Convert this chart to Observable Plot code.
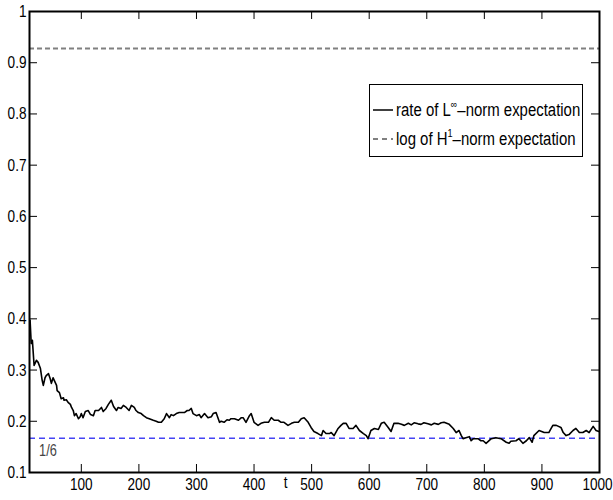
<!DOCTYPE html>
<html>
<head>
<meta charset="utf-8">
<script src="https://cdn.jsdelivr.net/npm/d3@7"></script>
<script src="https://cdn.jsdelivr.net/npm/@observablehq/plot@0.6"></script>
<style>
  html, body { margin: 0; padding: 0; background: #fff; }
  #wrap { position: relative; width: 613px; height: 500px; }
  #legend {
    position: absolute; left: 369px; top: 84px; width: 214px; height: 73px;
    border: 1px solid #000; background: #fff; box-sizing: border-box;
    font-family: "Liberation Sans", Arial, sans-serif;
    font-size: 18px; color: #000;
  }
  .row { position: absolute; left: 3px; height: 20px; display: flex; align-items: center; white-space: nowrap; }
  .row svg { margin-right: 3px; flex: none; }
  .row span { display: inline-block; transform: scaleX(0.83); transform-origin: 0 50%; }
  sup { font-size: 11px; vertical-align: 8px; line-height: 0; }
</style>
</head>
<body>
<div id="wrap"></div>
<script>
// Series: rate of L∞-norm expectation (t, value)
const tVals = [11,13,15,18,22,25,29,32,34,37,39,43,46,48,51,53,57,58,62,65,69,70,74,77,81,83,86,88,91,95,98,100,103,107,112,116,121,124,130,135,138,143,147,152,156,161,164,169,173,178,183,187,192,195,199,204,208,213,218,225,230,234,239,244,248,253,256,260,265,270,274,279,284,287,291,294,300,305,308,314,320,326,329,334,340,343,348,353,357,360,366,373,378,381,386,392,395,400,407,412,418,425,430,435,442,447,452,459,465,470,477,482,487,494,499,504,511,517,520,525,531,534,539,546,551,555,560,565,572,577,583,590,595,598,603,609,616,621,626,633,638,643,650,656,661,668,673,678,685,690,695,702,708,713,720,725,730,739,746,751,756,760,763,768,774,777,781,786,789,794,798,803,812,820,829,838,843,846,855,860,867,873,878,883,886,895,904,912,916,919,925,933,937,942,947,954,959,965,971,977,982,989,994,999];
const rateVals = [0.397,0.352,0.358,0.309,0.319,0.315,0.303,0.280,0.270,0.285,0.289,0.293,0.283,0.274,0.285,0.280,0.270,0.260,0.256,0.244,0.246,0.241,0.242,0.237,0.233,0.227,0.221,0.211,0.215,0.205,0.209,0.215,0.207,0.219,0.221,0.213,0.211,0.221,0.221,0.227,0.219,0.225,0.233,0.241,0.229,0.221,0.227,0.225,0.231,0.227,0.221,0.231,0.227,0.221,0.217,0.215,0.211,0.207,0.205,0.202,0.200,0.198,0.198,0.205,0.215,0.207,0.213,0.211,0.215,0.217,0.217,0.217,0.221,0.221,0.225,0.215,0.211,0.213,0.207,0.215,0.207,0.209,0.215,0.217,0.198,0.200,0.198,0.203,0.202,0.205,0.205,0.202,0.207,0.207,0.198,0.211,0.215,0.198,0.192,0.196,0.198,0.198,0.207,0.202,0.202,0.198,0.198,0.192,0.196,0.198,0.198,0.205,0.207,0.198,0.188,0.180,0.176,0.172,0.182,0.176,0.176,0.178,0.172,0.186,0.192,0.196,0.196,0.186,0.186,0.192,0.182,0.176,0.172,0.166,0.182,0.186,0.184,0.196,0.198,0.188,0.180,0.196,0.196,0.194,0.192,0.196,0.193,0.197,0.195,0.194,0.197,0.195,0.193,0.196,0.194,0.197,0.198,0.194,0.186,0.178,0.182,0.172,0.166,0.168,0.170,0.162,0.166,0.166,0.166,0.162,0.162,0.157,0.166,0.168,0.166,0.159,0.157,0.161,0.162,0.166,0.157,0.162,0.168,0.159,0.172,0.182,0.178,0.178,0.186,0.192,0.192,0.188,0.178,0.172,0.174,0.182,0.186,0.178,0.178,0.182,0.178,0.190,0.182,0.180,0.178];

// Reference levels
const logH1 = 0.928;
const oneSixth = 1 / 6;

// Axes
const xDomain = [10, 1000];
const yDomain = [0.1, 1];
const xTicks = [100, 200, 300, 400, 500, 600, 700, 800, 900, 1000];
const xTickLabels = ["100", "200", "300", "400", "500", "600", "700", "800", "900", "1000"];
const yTicks = [0.1, 0.2, 0.3, 0.4, 0.5, 0.6, 0.7, 0.8, 0.9, 1];
const yTickLabels = ["0.1", "0.2", "0.3", "0.4", "0.5", "0.6", "0.7", "0.8", "0.9", "1"];
const xLabel = "t";
const xLabelAt = 455;
const levelLabel = "1/6";
const levelLabelAt = 42;

const data = tVals.map((t, i) => ({t, v: rateVals[i]}));

const W = 613, H = 500;
const mL = 29, mR = 14, mT = 11, mB = 28;
const plotH = H - mT - mB, plotW = W - mL - mR;
const tk = 8;
const font = '"Liberation Sans", Arial, sans-serif';

const chart = Plot.plot({
  width: W, height: H,
  marginLeft: mL, marginRight: mR, marginTop: mT, marginBottom: mB,
  style: {fontFamily: font, fontSize: "17px", color: "#000", background: "#fff", overflow: "visible"},
  x: {domain: xDomain},
  y: {domain: yDomain},
  marks: [
    Plot.ruleY([logH1], {stroke: "#808080", strokeWidth: 2, strokeDasharray: "5,3"}),
    Plot.ruleY([oneSixth], {stroke: "#4444f4", strokeWidth: 1.5, strokeDasharray: "6,4"}),
    Plot.line(data, {x: "t", y: "v", stroke: "#000", strokeWidth: 1.6}),
    Plot.text([levelLabel], {x: levelLabelAt, y: oneSixth, text: d => d, dy: 13, fill: "#444", fontSize: 16}),
    // inward ticks (bottom, top, left, right)
    Plot.tickX(xTicks, {x: d => d, stroke: "#000", insetTop: plotH - tk}),
    Plot.tickX(xTicks, {x: d => d, stroke: "#000", insetBottom: plotH - tk}),
    Plot.tickY(yTicks, {y: d => d, stroke: "#000", insetRight: plotW - tk}),
    Plot.tickY(yTicks, {y: d => d, stroke: "#000", insetLeft: plotW - tk}),
    Plot.axisX(xTicks, {tickSize: 0, tickPadding: 5, label: null, fontSize: 17, tickFormat: (d, i) => xTickLabels[i]}),
    Plot.axisY(yTicks, {tickSize: 0, tickPadding: 3, label: null, fontSize: 17, tickFormat: (d, i) => yTickLabels[i]}),
    Plot.text([xLabel], {x: xLabelAt, frameAnchor: "bottom", dy: 15, fontSize: 17, fill: "#000", text: d => d}),
    Plot.frame({stroke: "#000", strokeWidth: 2})
  ]
});

// condense the text horizontally to mimic the narrow Helvetica of the original
chart.querySelectorAll("text").forEach(t => {
  const tr = t.getAttribute("transform");
  if (!tr) return;
  // keep the last x tick label inside the picture
  const extra = t.textContent === xTickLabels[xTickLabels.length - 1] ? " translate(-2,0)" : "";
  t.setAttribute("transform", tr + extra + " scale(0.8,1)");
});

const wrap = document.getElementById("wrap");
wrap.appendChild(chart);

const legend = document.createElement("div");
legend.id = "legend";
legend.innerHTML = `
  <div class="row" style="top:15px">
    <svg width="20" height="4"><line x1="0" y1="2" x2="20" y2="2" stroke="#000" stroke-width="1.5"/></svg>
    <span>rate of L<sup>∞</sup>–norm expectation</span>
  </div>
  <div class="row" style="top:44px">
    <svg width="20" height="4"><line x1="0" y1="2" x2="20" y2="2" stroke="#808080" stroke-width="2" stroke-dasharray="5,4"/></svg>
    <span>log of H<sup>1</sup>–norm expectation</span>
  </div>`;
wrap.appendChild(legend);
</script>
</body>
</html>
